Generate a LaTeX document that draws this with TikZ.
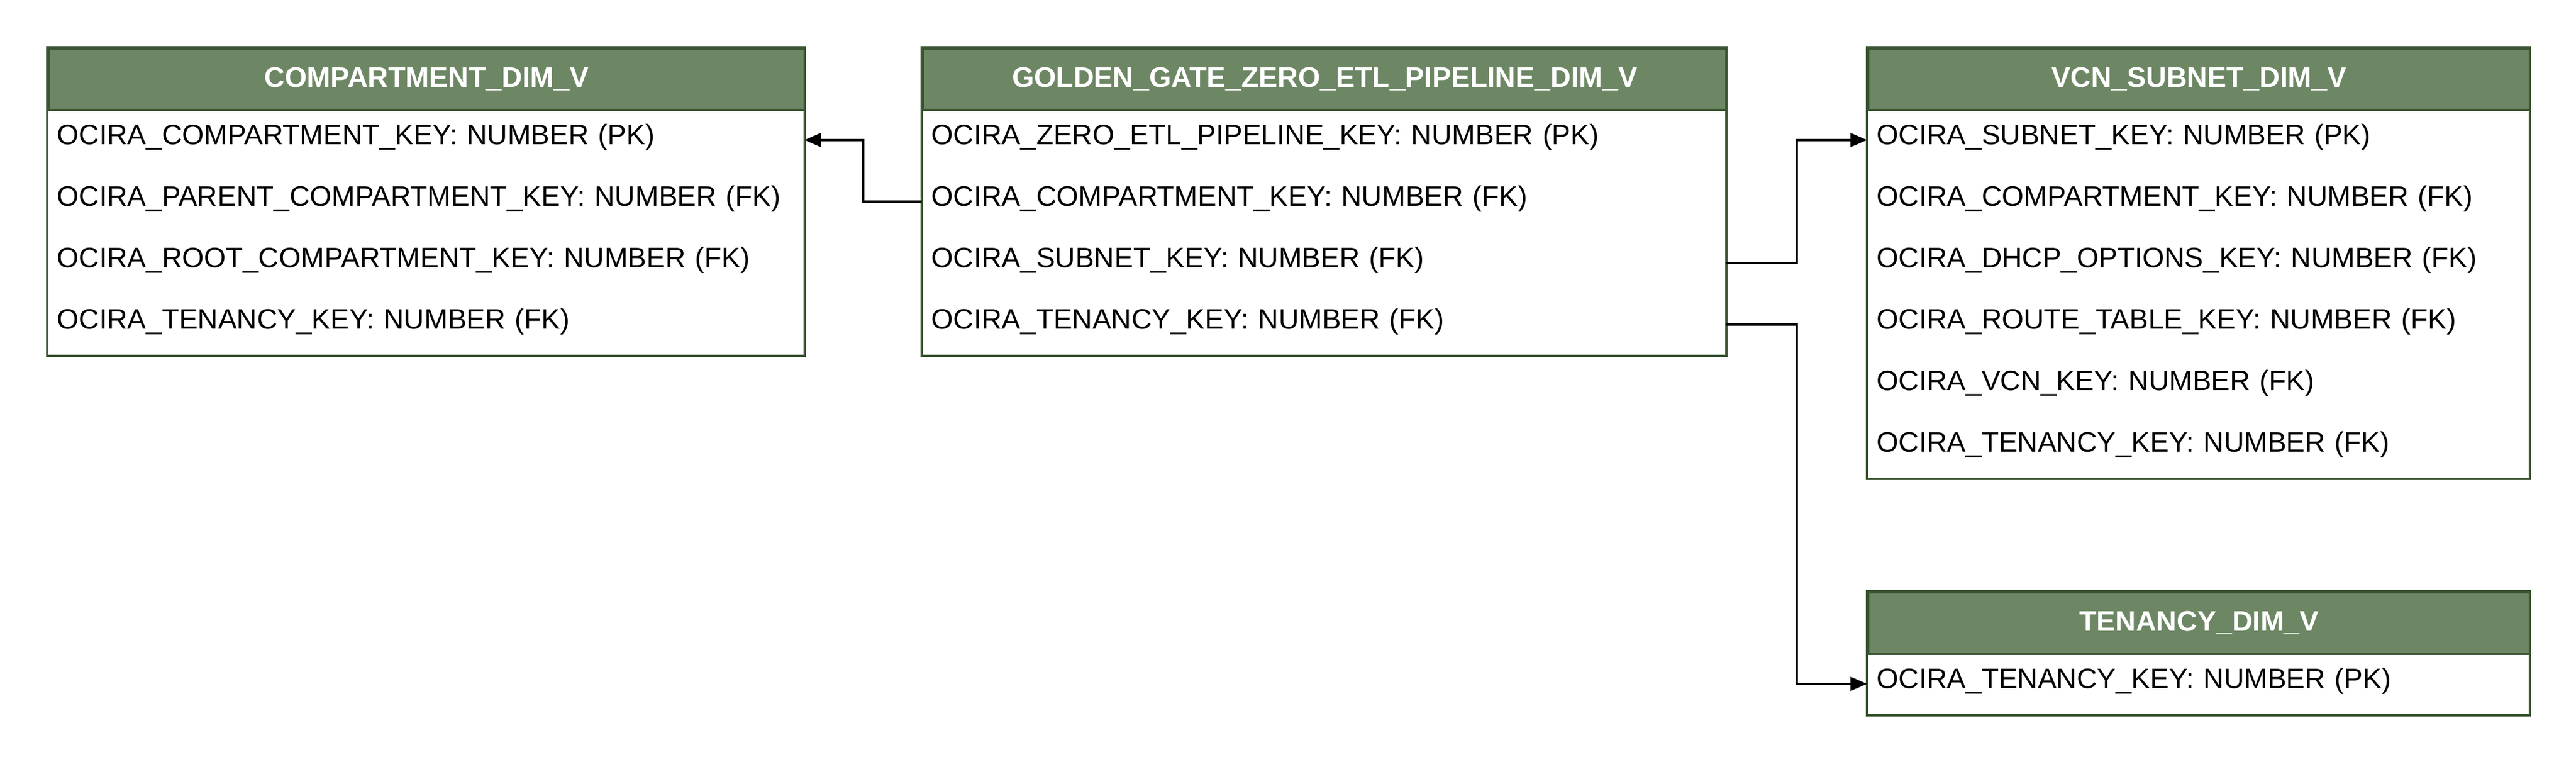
\documentclass[tikz,border=0pt]{standalone}
\usepackage{fontspec}
\setmainfont{Liberation Sans}
\usetikzlibrary{calc,arrows.meta}
\definecolor{hdrfill}{HTML}{6D8764}
\definecolor{hdrline}{HTML}{3A5431}
\tikzset{
  hdr/.style={draw=hdrline, line width=1pt, fill=hdrfill, text=white, font=\fontsize{12}{14}\selectfont\bfseries,
              minimum height=26pt, inner sep=0pt, anchor=north west},
  rowcell/.style={inner xsep=4pt, inner ysep=0pt, minimum height=26pt, align=left, anchor=north west,
              text height=7pt, text depth=3pt,
              font=\fontsize{11.9}{14}\selectfont, text=black},
  frame/.style={draw=hdrline, line width=1pt},
  fk/.style={draw=black, line width=1pt, -{Triangle[length=7pt,width=5.8pt]}},
}
\begin{document}
\begin{tikzpicture}[x=1pt,y=-1pt]
\useasboundingbox (0,0) rectangle (1090,322);
% ---- COMPARTMENT_DIM_V ----
\node[hdr, minimum width=320pt] (cH) at (20,20) {COMPARTMENT\_DIM\_V};
\node[rowcell, text width=312pt] (c1) at (20,46) {OCIRA\_COMPARTMENT\_KEY: NUMBER (PK)};
\node[rowcell, text width=312pt] (c2) at (20,72) {OCIRA\_PARENT\_COMPARTMENT\_KEY: NUMBER (FK)};
\node[rowcell, text width=312pt] (c3) at (20,98) {OCIRA\_ROOT\_COMPARTMENT\_KEY: NUMBER (FK)};
\node[rowcell, text width=312pt] (c4) at (20,124) {OCIRA\_TENANCY\_KEY: NUMBER (FK)};
\draw[frame] (cH.north west) rectangle (c4.south east);
% ---- GOLDEN_GATE_ZERO_ETL_PIPELINE_DIM_V ----
\node[hdr, minimum width=340pt] (gH) at (390,20) {GOLDEN\_GATE\_ZERO\_ETL\_PIPELINE\_DIM\_V};
\node[rowcell, text width=332pt] (g1) at (390,46) {OCIRA\_ZERO\_ETL\_PIPELINE\_KEY: NUMBER (PK)};
\node[rowcell, text width=332pt] (g2) at (390,72) {OCIRA\_COMPARTMENT\_KEY: NUMBER (FK)};
\node[rowcell, text width=332pt] (g3) at (390,98) {OCIRA\_SUBNET\_KEY: NUMBER (FK)};
\node[rowcell, text width=332pt] (g4) at (390,124) {OCIRA\_TENANCY\_KEY: NUMBER (FK)};
\draw[frame] (gH.north west) rectangle (g4.south east);
% ---- VCN_SUBNET_DIM_V ----
\node[hdr, minimum width=280pt] (vH) at (790,20) {VCN\_SUBNET\_DIM\_V};
\node[rowcell, text width=272pt] (v1) at (790,46) {OCIRA\_SUBNET\_KEY: NUMBER (PK)};
\node[rowcell, text width=272pt] (v2) at (790,72) {OCIRA\_COMPARTMENT\_KEY: NUMBER (FK)};
\node[rowcell, text width=272pt] (v3) at (790,98) {OCIRA\_DHCP\_OPTIONS\_KEY: NUMBER (FK)};
\node[rowcell, text width=272pt] (v4) at (790,124) {OCIRA\_ROUTE\_TABLE\_KEY: NUMBER (FK)};
\node[rowcell, text width=272pt] (v5) at (790,150) {OCIRA\_VCN\_KEY: NUMBER (FK)};
\node[rowcell, text width=272pt] (v6) at (790,176) {OCIRA\_TENANCY\_KEY: NUMBER (FK)};
\draw[frame] (vH.north west) rectangle (v6.south east);
% ---- TENANCY_DIM_V ----
\node[hdr, minimum width=280pt] (tH) at (790,250) {TENANCY\_DIM\_V};
\node[rowcell, text width=272pt] (t1) at (790,276) {OCIRA\_TENANCY\_KEY: NUMBER (PK)};
\draw[frame] (tH.north west) rectangle (t1.south east);
% ---- connectors ----
\coordinate (m1) at ($(g2.west)!0.5!(c1.east)$);
\draw[fk] (g2.west) -| (m1) |- (c1.east);
\coordinate (m2) at ($(g3.east)!0.5!(v1.west)$);
\draw[fk] (g3.east) -| (m2) |- (v1.west);
\coordinate (m3) at ($(g4.east)!0.5!(t1.west)$);
\draw[fk] (g4.east) -| (m3) |- (t1.west);
\end{tikzpicture}
\end{document}
